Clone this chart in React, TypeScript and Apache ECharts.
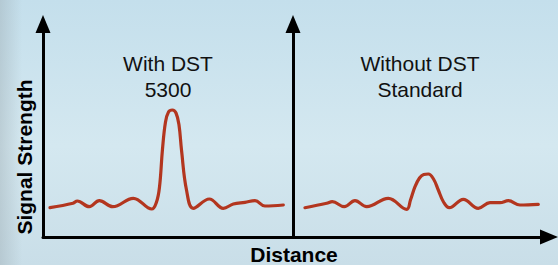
import React, { useEffect, useRef } from "react";
import * as echarts from "echarts";

// Signal strength vs distance, left panel (With DST 5300)
const withDstDistance = [7, 30, 34.3, 46.3, 56.3, 69.7, 90.3, 108.7, 113.5, 116.5, 119.5, 122.5, 125.5, 129.3, 133, 136, 138.5, 143.5, 150.3, 166.3, 180.3, 190.3, 202, 212, 222, 240.3];
const withDstSignal = [29.3, 33.7, 36, 30.3, 36.3, 30.3, 38.7, 28, 35, 50, 88, 115, 125, 127, 124, 112, 87, 47, 28.7, 38, 28.7, 33, 34.7, 36.3, 31, 32];

// Right panel (Without DST Standard)
const withoutDstDistance = [12, 33.7, 39.3, 51.3, 62, 73.7, 95.3, 113.7, 117.5, 122, 126.5, 130.8, 135.3, 140.5, 145.3, 150.5, 156.3, 170.3, 185.3, 197, 207, 215.3, 227, 245.3];
const withoutDstSignal = [29.3, 33.7, 35.3, 30.3, 36.3, 30.3, 38.7, 27.7, 37, 50.3, 59, 62.5, 63, 58, 47, 35, 29.3, 37.7, 28.7, 34.3, 34.3, 36.3, 32, 32.7];

const panelTitles = ["With DST\n5300", "Without DST\nStandard"];
const xAxisTitle = "Distance";
const yAxisTitle = "Signal Strength";

const FONT = "'Liberation Sans', Arial, Helvetica, sans-serif";
const LINE_COLOR = "#b3361f";

export default function App() {
  const ref = useRef<HTMLDivElement>(null);
  useEffect(() => {
    if (!ref.current) return;
    const chart = echarts.init(ref.current, undefined, { renderer: "svg" });
    const axisLine = (arrowEnd: boolean) => ({
      show: true,
      onZero: false,
      symbol: ["none", arrowEnd ? "triangle" : "none"],
      symbolSize: [15, 18],
      lineStyle: { color: "#000", width: 3 },
    });
    const xAx = (gridIndex: number, max: number, arrow: boolean) => ({
      type: "value",
      gridIndex,
      min: 0,
      max,
      axisLine: axisLine(arrow),
      axisTick: { show: false },
      axisLabel: { show: false },
      splitLine: { show: false },
    });
    const yAx = (gridIndex: number) => ({
      type: "value",
      gridIndex,
      min: 0,
      max: 213,
      axisLine: axisLine(true),
      axisTick: { show: false },
      axisLabel: { show: false },
      splitLine: { show: false },
    });
    const pair = (xs: number[], ys: number[]) => xs.map((x, i) => [x, ys[i]]);
    chart.setOption({
      animation: false,
      backgroundColor: {
        type: "linear",
        x: 0,
        y: 0,
        x2: 0,
        y2: 1,
        colorStops: [
          { offset: 0, color: "#c4dfec" },
          { offset: 0.55, color: "#d4e8f0" },
          { offset: 1, color: "#c9dee8" },
        ],
      },
      grid: [
        { left: 43, top: 24, width: 250, bottom: 28 },
        { left: 293, top: 24, right: 9, bottom: 28 },
      ],
      xAxis: [xAx(0, 250, false), xAx(1, 256, true)],
      yAxis: [yAx(0), yAx(1)],
      series: [
        {
          type: "line",
          xAxisIndex: 0,
          yAxisIndex: 0,
          data: pair(withDstDistance, withDstSignal),
          smooth: 0.4,
          symbol: "none",
          lineStyle: { color: LINE_COLOR, width: 3.2, cap: "round", join: "round" },
          z: 1,
        },
        {
          type: "line",
          xAxisIndex: 1,
          yAxisIndex: 1,
          data: pair(withoutDstDistance, withoutDstSignal),
          smooth: 0.4,
          symbol: "none",
          lineStyle: { color: LINE_COLOR, width: 3.2, cap: "round", join: "round" },
          z: 1,
        },
      ],
      graphic: [
        {
          type: "rect",
          z: -10,
          silent: true,
          shape: { x: 0, y: 0, width: 22, height: 265 },
          style: {
            fill: {
              type: "linear",
              x: 0,
              y: 0,
              x2: 1,
              y2: 0,
              colorStops: [
                { offset: 0, color: "rgba(160,175,182,0.45)" },
                { offset: 1, color: "rgba(160,175,182,0)" },
              ],
            },
          },
        },
        {
          type: "text",
          x: 168,
          y: 50.5,
          style: {
            text: panelTitles[0],
            font: `21px ${FONT}`,
            lineHeight: 26,
            fill: "#111",
            align: "center",
            verticalAlign: "top",
          },
        },
        {
          type: "text",
          x: 420,
          y: 50.5,
          style: {
            text: panelTitles[1],
            font: `21px ${FONT}`,
            lineHeight: 26,
            fill: "#111",
            align: "center",
            verticalAlign: "top",
          },
        },
        {
          type: "text",
          x: 294,
          y: 254.5,
          style: {
            text: xAxisTitle,
            font: `bold 21px ${FONT}`,
            fill: "#000",
            align: "center",
            verticalAlign: "middle",
          },
        },
        {
          type: "text",
          x: 24,
          y: 157,
          rotation: Math.PI / 2,
          style: {
            text: yAxisTitle,
            font: `bold 21px ${FONT}`,
            fill: "#000",
            align: "center",
            verticalAlign: "middle",
          },
        },
      ],
    });
    return () => chart.dispose();
  }, []);
  return (
    <div
      ref={ref}
      style={{ position: "absolute", left: 0, top: 0, width: 558, height: 265 }}
    />
  );
}
